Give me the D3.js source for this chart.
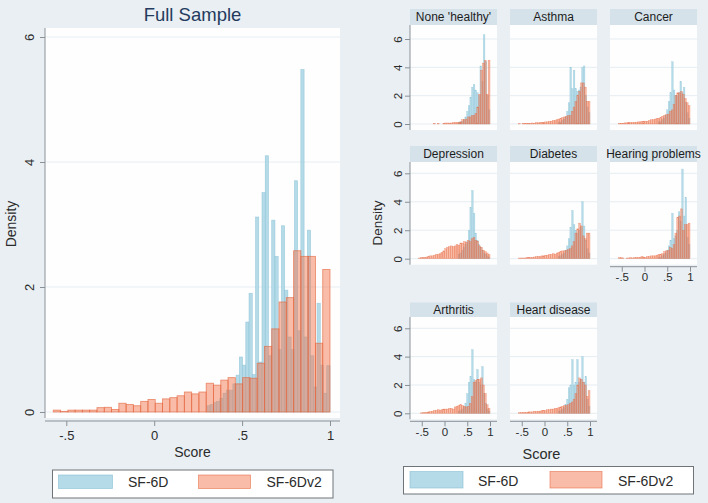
<!DOCTYPE html>
<html>
<head>
<meta charset="utf-8">
<script src="https://cdn.jsdelivr.net/npm/d3@7"></script>
<style>
body { margin: 0; background: #e9eff3; }
svg { display: block; font-family: "Liberation Sans", Arial, sans-serif; }
</style>
</head>
<body>
<script>
var width = 708,
    height = 503;

// score ranges the histograms were binned over
var sf6dv2Range = [-0.574, 1.0],
    sf6dRange = [0.30, 1.0];

var xTicks = [-0.5, 0, 0.5, 1],
    xTickLabels = ["-.5", "0", ".5", "1"],
    yTicks = [0, 2, 4, 6],
    seriesNames = ["SF-6D", "SF-6Dv2"];

// Full sample, density per bin (38 bins each)
var fullSF6Dv2 = [0.03, 0.01, 0.03, 0.03, 0.03, 0.03, 0.07, 0.075, 0.04, 0.14,
                  0.12, 0.10, 0.17, 0.20, 0.14, 0.21, 0.23, 0.26, 0.32, 0.29,
                  0.32, 0.46, 0.43, 0.51, 0.55, 0.45, 0.55, 0.54, 0.78, 1.05,
                  1.33, 1.76, 1.83, 2.58, 2.49, 2.49, 1.10, 2.28];
var fullSF6D = [0.10, 0.12, 0.15, 0.17, 0.22, 0.30, 0.35, 0.35, 0.45, 0.59,
                0.88, 0.75, 1.44, 1.90, 0.60, 3.12, 0.80, 3.51, 4.10, 0.90,
                3.07, 2.49, 1.00, 2.98, 1.95, 1.20, 1.00, 3.70, 1.30, 5.48,
                1.20, 2.91, 0.90, 0.40, 1.74, 0.75, 0.30, 0.74];

// By condition: SF-6Dv2 (38 bins), SF-6D (19 bins)
var panelNames = ["None 'healthy'", "Asthma", "Cancer", "Depression", "Diabetes",
                  "Hearing problems", "Arthritis", "Heart disease"];

var noneV2 = [0, 0, 0, 0, 0, 0, 0, 0, 0.05, 0, 0.05, 0, 0, 0.05, 0.07, 0.07, 0.07, 0.07, 0.1,
              0.1, 0.1, 0.12, 0.15, 0.3, 0.3, 0.35, 0.5, 0.5, 0.6, 0.6, 0.75, 1.2, 2.1, 3.8, 4.3, 4.5, 2.1, 4.5];
var noneSF = [0.1, 0.15, 0.2, 0.3, 0.5, 0.9, 1.3, 1.9, 2.6, 2.8, 2.4, 2.2, 2.0, 4.1, 3.0, 6.3, 4.4, 2.0, 1.0];

var asthmaV2 = [0.03, 0, 0.05, 0.05, 0.05, 0.03, 0.05, 0.07, 0.05, 0.1, 0.08, 0.1, 0.12, 0.1, 0.15, 0.15, 0.2, 0.2, 0.25,
                0.25, 0.3, 0.35, 0.4, 0.45, 0.5, 0.55, 0.6, 0.6, 0.9, 1.2, 1.6, 2.0, 2.3, 2.9, 2.9, 2.6, 1.6, 1.6];
var asthmaSF = [0.1, 0.15, 0.25, 0.35, 0.5, 0.9, 1.5, 4.0, 2.5, 3.8, 2.5, 2.3, 2.4, 2.6, 4.0, 4.1, 2.0, 1.2, 0.8];

var cancerV2 = [0.05, 0.05, 0.05, 0.08, 0.08, 0.1, 0.1, 0.1, 0.12, 0.12, 0.15, 0.15, 0.18, 0.2, 0.2, 0.2, 0.25, 0.3, 0.3,
                0.35, 0.4, 0.4, 0.45, 0.55, 0.6, 0.65, 0.7, 0.9, 1.0, 1.4, 2.0, 2.2, 2.2, 2.3, 2.1, 1.8, 1.5, 1.3];
var cancerSF = [0.15, 0.2, 0.3, 0.4, 0.6, 1.0, 1.6, 2.2, 4.4, 2.4, 2.0, 2.0, 2.2, 3.0, 2.2, 2.6, 1.5, 0.8, 0.4];

var depressionV2 = [0.05, 0.08, 0.1, 0.1, 0.12, 0.15, 0.2, 0.2, 0.25, 0.3, 0.3, 0.35, 0.45, 0.55, 0.7, 0.8, 0.85, 0.9, 0.85,
                    0.9, 1.0, 0.95, 1.1, 1.1, 1.2, 1.15, 1.3, 1.2, 1.4, 1.5, 1.3, 1.2, 0.9, 0.8, 0.6, 0.5, 0.4, 0.3];
var depressionSF = [0.3, 0.4, 0.6, 0.8, 1.0, 1.2, 2.0, 3.6, 4.8, 3.2, 1.8, 1.3, 1.0, 0.8, 0.6, 0.4, 0.3, 0.2, 0.1];

var diabetesV2 = [0.05, 0.05, 0.05, 0.05, 0.08, 0.08, 0.1, 0.1, 0.12, 0.15, 0.15, 0.15, 0.2, 0.2, 0.25, 0.25, 0.3, 0.3, 0.35,
                  0.3, 0.4, 0.45, 0.5, 0.55, 0.55, 0.6, 0.65, 0.7, 0.9, 1.2, 1.8, 2.1, 2.5, 2.3, 1.6, 1.4, 1.8, 1.8];
var diabetesSF = [0.15, 0.2, 0.3, 0.4, 0.6, 0.9, 1.4, 2.2, 3.4, 2.4, 2.0, 1.8, 2.0, 2.2, 4.0, 2.3, 1.3, 0.7, 0.4];

var hearingV2 = [0.08, 0.08, 0.05, 0, 0.05, 0.05, 0.08, 0.05, 0.08, 0.1, 0.08, 0.1, 0.15, 0.12, 0.1, 0.15, 0.15, 0.2, 0.2,
                 0.2, 0.25, 0.3, 0.3, 0.35, 0.5, 0.55, 0.6, 0.8, 0.7, 1.0, 1.8, 2.9, 3.0, 3.5, 2.0, 2.4, 2.4, 2.5];
var hearingSF = [0.1, 0.1, 0.2, 0.3, 0.4, 0.6, 0.9, 1.3, 3.2, 1.4, 1.6, 2.0, 3.3, 2.6, 6.3, 3.0, 4.3, 1.5, 1.0];

var arthritisV2 = [0, 0.03, 0.05, 0.05, 0.08, 0.1, 0.12, 0.15, 0.2, 0.2, 0.25, 0.2, 0.25, 0.3, 0.3, 0.3, 0.35, 0.35, 0.3,
                   0.45, 0.5, 0.55, 0.6, 0.55, 0.5, 0.45, 0.5, 0.7, 1.2, 2.2, 2.3, 2.4, 2.4, 2.5, 2.0, 1.4, 0.6, 0.35];
var arthritisSF = [0.15, 0.2, 0.3, 0.45, 0.7, 1.4, 2.2, 2.6, 4.5, 2.4, 2.2, 3.1, 2.2, 2.0, 3.3, 1.4, 0.7, 0.3, 0.15];

var heartV2 = [0.05, 0.05, 0.05, 0.08, 0.05, 0.1, 0.1, 0.1, 0.15, 0.12, 0.15, 0.15, 0.2, 0.2, 0.2, 0.25, 0.25, 0.3, 0.3,
               0.35, 0.35, 0.4, 0.45, 0.5, 0.55, 0.55, 0.6, 0.7, 0.8, 1.0, 1.4, 2.0, 2.5, 2.4, 2.2, 2.0, 1.2, 1.6];
var heartSF = [0.15, 0.2, 0.3, 0.4, 0.6, 1.0, 1.8, 2.0, 3.8, 2.0, 2.2, 3.8, 2.2, 2.4, 4.0, 2.2, 2.6, 1.0, 0.5];

var panelV2 = [noneV2, asthmaV2, cancerV2, depressionV2, diabetesV2, hearingV2, arthritisV2, heartV2],
    panelSF = [noneSF, asthmaSF, cancerSF, depressionSF, diabetesSF, hearingSF, arthritisSF, heartSF];

// styles
var bg = "#e9eff3",
    axisColor = "#8a9196",
    gridColor = "#e5edf1",
    textColor = "#2b2b2b",
    blueStyle = { fill: "#a8d5e4", op: 0.85, stroke: "#8cc3d6", sop: 0.8 },
    orangeStyle = { fill: "#f27a52", op: 0.5, stroke: "#e5623a", sop: 0.65 };

var svg = d3.select("body")
            .append("svg")
            .attr("width", width)
            .attr("height", height);

svg.append("rect").attr("width", width).attr("height", height).attr("fill", bg);

function toBins(values, range) {
  var w = (range[1] - range[0]) / values.length;
  return values.map(function(v, i) {
    return { x0: range[0] + i * w, x1: range[0] + (i + 1) * w, d: v };
  });
}

function drawHist(g, x, y, values, range, st, sw) {
  g.append("g").selectAll("rect")
    .data(toBins(values, range).filter(function(b) { return b.d > 0; }))
    .enter().append("rect")
    .attr("x", function(b) { return x(b.x0); })
    .attr("width", function(b) { return x(b.x1) - x(b.x0); })
    .attr("y", function(b) { return y(b.d); })
    .attr("height", function(b) { return y(0) - y(b.d); })
    .attr("fill", st.fill)
    .attr("fill-opacity", st.op)
    .attr("stroke", st.stroke)
    .attr("stroke-opacity", st.sop)
    .attr("stroke-width", sw);
}

function drawLegend(box, sw1, sw2, t1, t2, fs) {
  var g = svg.append("g");
  g.append("rect").attr("x", box[0]).attr("y", box[1]).attr("width", box[2]).attr("height", box[3])
    .attr("fill", "#fff").attr("stroke", "#6e7478").attr("stroke-width", 1);
  [blueStyle, orangeStyle].forEach(function(st, i) {
    var s = i === 0 ? sw1 : sw2;
    g.append("rect").attr("x", s[0]).attr("y", s[1]).attr("width", s[2]).attr("height", s[3])
      .attr("fill", st.fill).attr("fill-opacity", st.op)
      .attr("stroke", st.stroke).attr("stroke-opacity", st.sop).attr("stroke-width", 0.8);
    var t = i === 0 ? t1 : t2;
    g.append("text").attr("x", t[0]).attr("y", t[1]).attr("font-size", fs)
      .attr("fill", textColor).text(seriesNames[i]);
  });
}

/* Full sample */

var xMain = d3.scaleLinear().domain([-0.5, 1]).range([66.3, 330]),
    yMain = d3.scaleLinear().domain([0, 6]).range([412, 37]);

var main_g = svg.append("g");

main_g.append("text").attr("x", 192.5).attr("y", 20.5).attr("text-anchor", "middle")
  .attr("font-size", 18.5).attr("fill", "#243b5e").text("Full Sample");

main_g.append("rect").attr("x", 45).attr("y", 28).attr("width", 295).attr("height", 390).attr("fill", "#fefefe");

main_g.selectAll("line.grid").data(yTicks).enter().append("line").attr("class", "grid")
  .attr("x1", 45).attr("x2", 340)
  .attr("y1", function(d) { return yMain(d); }).attr("y2", function(d) { return yMain(d); })
  .attr("stroke", gridColor).attr("stroke-width", 1.2);

drawHist(main_g, xMain, yMain, fullSF6D, sf6dRange, blueStyle, 0.6);
drawHist(main_g, xMain, yMain, fullSF6Dv2, sf6dv2Range, orangeStyle, 0.9);

// y axis
var yAxisMain = main_g.append("g").attr("transform", "translate(45,0)")
  .call(d3.axisLeft(yMain).tickValues(yTicks).tickSize(5).tickPadding(0).tickFormat(d3.format("d")));
yAxisMain.select(".domain").remove();
yAxisMain.append("line").attr("y1", 28).attr("y2", 418).attr("stroke", axisColor);
yAxisMain.selectAll(".tick line").attr("stroke", axisColor);
yAxisMain.selectAll(".tick text")
  .attr("x", null).attr("dy", null)
  .attr("transform", "translate(-11,0) rotate(-90)")
  .attr("text-anchor", "middle").attr("font-size", 13).attr("fill", textColor);

// x axis
var xAxisMain = main_g.append("g").attr("transform", "translate(0,421)")
  .call(d3.axisBottom(xMain).tickValues(xTicks).tickSize(5).tickPadding(0)
    .tickFormat(function(d, i) { return xTickLabels[i]; }));
xAxisMain.select(".domain").remove();
xAxisMain.append("line").attr("x1", 45).attr("x2", 340).attr("stroke", axisColor);
xAxisMain.selectAll(".tick line").attr("stroke", axisColor);
xAxisMain.selectAll(".tick text").attr("dy", null).attr("y", 18.5)
  .attr("font-size", 13).attr("fill", textColor);

main_g.append("text").attr("transform", "translate(16,224) rotate(-90)").attr("text-anchor", "middle")
  .attr("font-size", 14).attr("fill", textColor).text("Density");
main_g.append("text").attr("x", 192.5).attr("y", 456.5).attr("text-anchor", "middle")
  .attr("font-size", 14).attr("fill", textColor).text("Score");

drawLegend([52.5, 470, 280.5, 28], [58.5, 475, 54, 13.5], [198.5, 475, 52, 13.5],
           [128, 486.5], [266.5, 486.5], 14);

/* By condition */

var colLeft = [410, 510, 610],
    panelW = 87,
    rows = [{ head: 9, top: 25, y0: 124, y6: 39 },
            { head: 146, top: 162, y0: 258.7, y6: 173.3 },
            { head: 302.5, top: 317, y0: 413.3, y6: 328.3 }];

var panels = panelNames.map(function(n, i) {
  return { name: n, v2: panelV2[i], sf: panelSF[i], col: i % 3, row: Math.floor(i / 3), idx: i };
});

var panel_g = svg.append("g");

panels.forEach(function(p) {
  var left = colLeft[p.col],
      r = rows[p.row],
      bottom = r.y0 + 6,
      g = panel_g.append("g");

  var x = d3.scaleLinear().domain([-0.5, 1]).range([left + 11.75, left + 80]),
      y = d3.scaleLinear().domain([0, 6]).range([r.y0, r.y6]);

  g.append("rect").attr("x", left).attr("y", r.head).attr("width", panelW).attr("height", r.top - r.head)
    .attr("fill", "#d6e2ea");
  g.append("text").attr("x", left + panelW / 2).attr("y", (r.head + r.top) / 2 + 4.3)
    .attr("text-anchor", "middle").attr("font-size", 12).attr("fill", "#1c1c1c").text(p.name);

  g.append("rect").attr("x", left).attr("y", r.top).attr("width", panelW).attr("height", bottom - r.top)
    .attr("fill", "#fefefe");

  g.selectAll("line.grid").data(yTicks).enter().append("line").attr("class", "grid")
    .attr("x1", left).attr("x2", left + panelW)
    .attr("y1", function(d) { return y(d); }).attr("y2", function(d) { return y(d); })
    .attr("stroke", gridColor).attr("stroke-width", 1);

  drawHist(g, x, y, p.sf, sf6dRange, blueStyle, 0.3);
  drawHist(g, x, y, p.v2, sf6dv2Range, orangeStyle, 0.4);

  if (p.col === 0) {
    var ya = g.append("g").attr("transform", "translate(" + left + ",0)")
      .call(d3.axisLeft(y).tickValues(yTicks).tickSize(5).tickPadding(0).tickFormat(d3.format("d")));
    ya.select(".domain").remove();
    ya.append("line").attr("y1", r.top).attr("y2", bottom).attr("stroke", axisColor);
    ya.selectAll(".tick line").attr("stroke", axisColor);
    ya.selectAll(".tick text")
      .attr("x", null).attr("dy", null)
      .attr("transform", "translate(-8,0) rotate(-90)")
      .attr("text-anchor", "middle").attr("font-size", 11.5).attr("fill", textColor);
  }

  if (p.idx + 3 >= panels.length) {
    var xa = g.append("g").attr("transform", "translate(0," + (r.y0 + 8) + ")")
      .call(d3.axisBottom(x).tickValues(xTicks).tickSize(5).tickPadding(0)
        .tickFormat(function(d, i) { return xTickLabels[i]; }));
    xa.select(".domain").remove();
    xa.append("line").attr("x1", left).attr("x2", left + panelW).attr("stroke", axisColor);
    xa.selectAll(".tick line").attr("stroke", axisColor);
    xa.selectAll(".tick text").attr("dy", null).attr("y", 14.5)
      .attr("font-size", 11.5).attr("fill", textColor);
  }
});

panel_g.append("text").attr("transform", "translate(381.5,223) rotate(-90)").attr("text-anchor", "middle")
  .attr("font-size", 13.5).attr("fill", textColor).text("Density");
panel_g.append("text").attr("x", 541.5).attr("y", 458.5).attr("text-anchor", "middle")
  .attr("font-size", 14.5).attr("fill", textColor).text("Score");

drawLegend([403.5, 466.5, 290, 27.5], [410, 471.5, 53, 16.5], [550, 471.5, 52, 16.5],
           [478, 486], [618, 486], 14);
</script>
</body>
</html>
